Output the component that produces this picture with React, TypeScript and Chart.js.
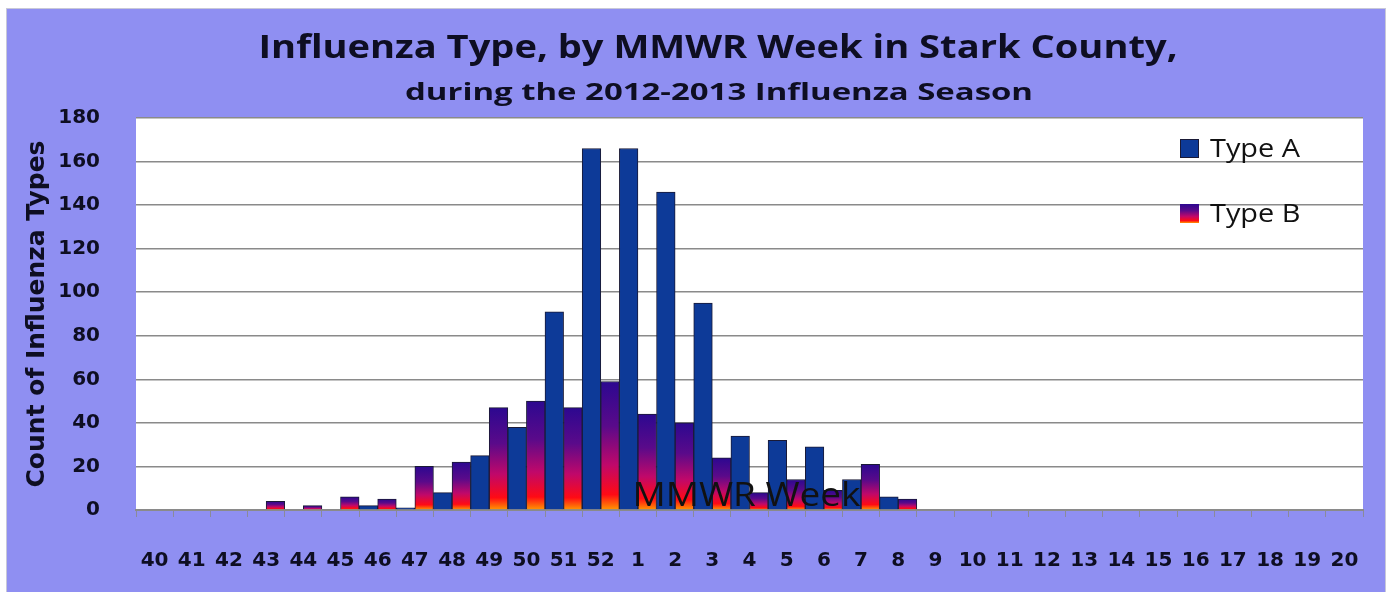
import React, { useEffect, useRef } from 'react';
import { Chart, registerables } from 'chart.js';

Chart.register(...registerables);

// ---- data ----
const weeks = [
  '40', '41', '42', '43', '44', '45', '46', '47', '48', '49', '50', '51', '52',
  '1', '2', '3', '4', '5', '6', '7', '8', '9', '10', '11', '12', '13', '14',
  '15', '16', '17', '18', '19', '20',
];
const typeA = [
  0, 0, 0, 0, 0, 2, 1, 8, 25, 38, 91, 166, 166,
  146, 95, 34, 32, 29, 14, 6, 0, 0, 0, 0, 0, 0, 0,
  0, 0, 0, 0, 0, 0,
];
const typeB = [
  0, 0, 0, 4, 2, 6, 5, 20, 22, 47, 50, 47, 59,
  44, 40, 24, 8, 14, 9, 21, 5, 0, 0, 0, 0, 0, 0,
  0, 0, 0, 0, 0, 0,
];
const yTicks = [0, 20, 40, 60, 80, 100, 120, 140, 160, 180];
const seriesNames = ['Type B', 'Type A'];

const TITLE = 'Influenza Type, by MMWR Week in Stark County,';
const SUBTITLE = 'during the 2012-2013 Influenza Season';
const X_TITLE = 'MMWR Week';
const Y_TITLE = 'Count of Influenza Types';

const PURPLE = '#8f8ff2';
const BLUE = '#0d3a98';
const OUTLINE = '#1a1a36';
const TEXT = '#0e0e22';
const AXIS_FONT = 'DejaVu Sans';
const TEXT_FONT = 'Open Sans';

function addFireStops(g: CanvasGradient) {
  g.addColorStop(0, '#2c0890');
  g.addColorStop(0.35, '#5a0a8a');
  g.addColorStop(0.65, '#c0086a');
  g.addColorStop(0.88, '#ff0a14');
  g.addColorStop(1, '#ff9a00');
  return g;
}

function typeBFill(c: any) {
  const chart = c.chart;
  const ys = chart.scales && chart.scales.y;
  if (!chart.chartArea || !ys || c.type !== 'data' || !c.parsed) return '#a00a70';
  const top = ys.getPixelForValue(c.parsed.y);
  const bottom = ys.getPixelForValue(0);
  if (!(bottom - top > 0.5)) return '#ff3010';
  return addFireStops(chart.ctx.createLinearGradient(0, top, 0, bottom));
}

// draw text stretched horizontally to a target width
function fitText(
  ctx: CanvasRenderingContext2D,
  text: string,
  font: string,
  x: number,
  baseline: number,
  targetW: number,
  align: 'center' | 'left',
) {
  ctx.save();
  ctx.font = font;
  const w = ctx.measureText(text).width || 1;
  const s = targetW / w;
  ctx.translate(x, baseline);
  ctx.scale(s, 1);
  ctx.textAlign = align;
  ctx.textBaseline = 'alphabetic';
  ctx.fillText(text, 0, 0);
  ctx.restore();
  return s;
}

const framePlugin = {
  id: 'frame',
  beforeDraw(chart: any) {
    const { ctx, chartArea: a, width, height } = chart;
    ctx.save();
    ctx.fillStyle = '#ffffff';
    ctx.fillRect(0, 0, width, height);
    ctx.fillStyle = PURPLE;
    ctx.fillRect(7, 9, width - 16, height - 9);
    ctx.strokeStyle = '#c8c8d8';
    ctx.lineWidth = 1;
    ctx.strokeRect(6.5, 8.5, width - 15, height);
    ctx.fillStyle = '#ffffff';
    ctx.fillRect(a.left, a.top, a.right - a.left, a.bottom - a.top);
    ctx.fillStyle = TEXT;
    fitText(ctx, TITLE, `bold 32px "${TEXT_FONT}"`, 718, 58, 919, 'center');
    fitText(ctx, SUBTITLE, `bold 24px "${TEXT_FONT}"`, 719, 100, 628, 'center');
    ctx.restore();
  },
  afterDatasetsDraw(chart: any) {
    const { ctx, chartArea: a } = chart;
    ctx.save();
    // x-axis title sitting inside the plot
    ctx.fillStyle = '#111111';
    fitText(ctx, X_TITLE, `32px "${TEXT_FONT}"`, (a.left + a.right) / 2 - 3, a.bottom - 4, 228, 'center');
    // legend (Type A first, then Type B)
    const order = [1, 0];
    ctx.font = `26px "${TEXT_FONT}"`;
    const sx = 90 / (ctx.measureText(chart.data.datasets[1].label).width || 1);
    order.forEach((di, row) => {
      const ds = chart.data.datasets[di];
      const bx = a.right - 183;
      const by = a.top + 21 + row * 65;
      const size = 19;
      if (di === 1) ctx.fillStyle = BLUE;
      else ctx.fillStyle = addFireStops(ctx.createLinearGradient(0, by, 0, by + size));
      ctx.fillRect(bx, by, size, size);
      ctx.strokeStyle = OUTLINE;
      ctx.lineWidth = 1;
      if (di === 1) ctx.strokeRect(bx + 0.5, by + 0.5, size - 1, size - 1);
      ctx.fillStyle = '#111111';
      ctx.save();
      ctx.font = `26px "${TEXT_FONT}"`;
      ctx.translate(bx + 30, by + 18);
      ctx.scale(sx, 1);
      ctx.textAlign = 'left';
      ctx.textBaseline = 'alphabetic';
      ctx.fillText(ds.label, 0, 0);
      ctx.restore();
    });
    ctx.restore();
  },
};

export default function App() {
  const ref = useRef<HTMLCanvasElement | null>(null);

  useEffect(() => {
    document.body.style.margin = '0';
    const canvas = ref.current;
    if (!canvas) return;
    const chart = new Chart(canvas, {
      type: 'bar',
      data: {
        labels: weeks,
        datasets: [
          {
            label: seriesNames[0],
            data: weeks.map((w, i) => ({ x: w, y: typeB[i] })),
            xAxisID: 'xb',
            backgroundColor: typeBFill,
            borderColor: OUTLINE,
            borderWidth: 1,
            categoryPercentage: 1,
            barPercentage: 1,
          },
          {
            label: seriesNames[1],
            data: weeks.map((w, i) => ({ x: w, y: typeA[i] })),
            xAxisID: 'xb',
            backgroundColor: BLUE,
            borderColor: OUTLINE,
            borderWidth: 1,
            categoryPercentage: 1,
            barPercentage: 1,
          },
        ],
      },
      options: {
        responsive: false,
        animation: false,
        devicePixelRatio: 1,
        layout: { padding: { top: 118, right: 31, left: 10, bottom: 0 } },
        plugins: {
          legend: { display: false },
          tooltip: { enabled: false },
          title: { display: false },
        },
        scales: {
          x: {
            type: 'category',
            labels: weeks,
            offset: true,
            position: 'bottom',
            grid: {
              display: true,
              offset: true,
              drawOnChartArea: false,
              drawTicks: true,
              tickLength: 7,
              color: '#8a8a9a',
              lineWidth: 1,
            },
            border: { display: true, color: '#8a8a8a', width: 2 },
            ticks: {
              color: TEXT,
              font: { family: AXIS_FONT, size: 20, weight: 'bold' },
              padding: 32,
              maxRotation: 0,
              autoSkip: false,
            },
            afterFit: (s: any) => {
              s.height = 82;
            },
          },
          xb: {
            type: 'category',
            labels: ['', ...weeks],
            offset: false,
            display: false,
            position: 'bottom',
          },
          y: {
            type: 'linear',
            min: 0,
            max: 180,
            position: 'left',
            afterBuildTicks: (s: any) => {
              s.ticks = yTicks.map((v) => ({ value: v }));
            },
            grid: {
              color: '#8a8a8a',
              lineWidth: 1.5,
              drawTicks: false,
            },
            border: { display: false },
            ticks: {
              color: TEXT,
              font: { family: AXIS_FONT, size: 20, weight: 'bold' },
              padding: 36,
            },
            title: {
              display: true,
              text: Y_TITLE,
              color: TEXT,
              font: { family: AXIS_FONT, size: 25, weight: 'bold' },
              padding: { top: 12, bottom: 0 },
            },
            afterFit: (s: any) => {
              s.width = 126;
            },
          },
        },
      },
      plugins: [framePlugin],
    });
    return () => chart.destroy();
  }, []);

  return (
    <div style={{ position: 'absolute', left: 0, top: 0, width: 1394, height: 592 }}>
      <canvas ref={ref} width={1394} height={592} style={{ width: 1394, height: 592, display: 'block' }} />
    </div>
  );
}
